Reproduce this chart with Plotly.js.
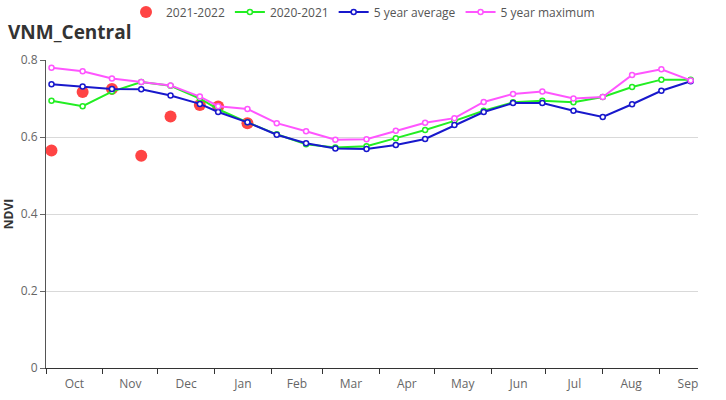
<!DOCTYPE html>
<html>
<head>
<meta charset="utf-8">
<script src="https://cdn.plot.ly/plotly-3.0.1.min.js"></script>
<style>
  html, body { margin: 0; padding: 0; background: #fff; }
  #chart { width: 726px; height: 400px; }
</style>
</head>
<body>
<div id="chart"></div>
<script>
// Composite dates (approx. 16-day steps) for one season Oct 2021 - Sep 2022
const dates = [
  '2021-10-04', '2021-10-21', '2021-11-06', '2021-11-22', '2021-12-08', '2021-12-24',
  '2022-01-03', '2022-01-19', '2022-02-04', '2022-02-20', '2022-03-08', '2022-03-25',
  '2022-04-10', '2022-04-26', '2022-05-12', '2022-05-28', '2022-06-13', '2022-06-29',
  '2022-07-16', '2022-08-01', '2022-08-17', '2022-09-02', '2022-09-18'
];

const ndvi2021_2022 = [0.565, 0.717, 0.725, 0.551, 0.653, 0.683, 0.679, 0.636];

const ndvi2020_2021 = [0.694, 0.680, 0.718, 0.743, 0.733, 0.700, 0.672, 0.638,
  0.607, 0.581, 0.573, 0.576, 0.597, 0.618, 0.642, 0.668, 0.690, 0.694, 0.690,
  0.704, 0.730, 0.749, 0.749];

const ndviAvg5 = [0.737, 0.731, 0.725, 0.724, 0.708, 0.686, 0.665, 0.638,
  0.606, 0.584, 0.570, 0.569, 0.579, 0.595, 0.631, 0.665, 0.688, 0.688, 0.668,
  0.652, 0.685, 0.720, 0.745];

const ndviMax5 = [0.780, 0.771, 0.752, 0.743, 0.734, 0.705, 0.680, 0.673,
  0.636, 0.615, 0.593, 0.594, 0.616, 0.637, 0.649, 0.691, 0.712, 0.718, 0.700,
  0.704, 0.761, 0.776, 0.747];

const seriesNames = ['2021-2022', '2020-2021', '5 year average', '5 year maximum'];
const xRange = ['2021-10-01', '2022-09-22'];
const yTicks = [0, 0.2, 0.4, 0.6, 0.8];
const yTickText = ['0', '0.2', '0.4', '0.6', '0.8'];

function lineTrace(name, y, color) {
  return {
    type: 'scatter', mode: 'lines+markers', name: name,
    x: dates.slice(0, y.length), y: y,
    line: { color: color, width: 2 },
    marker: { symbol: 'circle', size: 5, color: '#ffffff', line: { color: color, width: 1.5 } }
  };
}

const traces = [
  {
    type: 'scatter', mode: 'markers', name: seriesNames[0],
    x: dates.slice(0, ndvi2021_2022.length), y: ndvi2021_2022,
    marker: { symbol: 'circle', size: 12, color: 'rgba(255,35,35,0.85)' }
  },
  lineTrace(seriesNames[1], ndvi2020_2021, '#22ee22'),
  lineTrace(seriesNames[2], ndviAvg5, '#1818cc'),
  lineTrace(seriesNames[3], ndviMax5, '#ff55ff')
];

const layout = {
  width: 726, height: 400,
  margin: { l: 46, r: 28, t: 60, b: 32 },
  paper_bgcolor: '#ffffff', plot_bgcolor: '#ffffff',
  font: { family: '"Open Sans", "Noto Sans", sans-serif', color: '#666666', size: 12 },
  title: {
    text: '<b>VNM_Central</b>',
    font: { size: 19, color: '#333333', family: '"Open Sans", "Noto Sans", sans-serif' },
    xref: 'container', yref: 'container',
    x: 8 / 726, xanchor: 'left', y: 1 - 32 / 400, yanchor: 'middle'
  },
  showlegend: true,
  legend: {
    orientation: 'h', xref: 'container', yref: 'container',
    x: 0.5, xanchor: 'center', y: 1 - 12 / 400, yanchor: 'middle',
    font: { size: 12, color: '#555555' }, itemwidth: 30, tracegroupgap: 0
  },
  xaxis: {
    type: 'date',
    range: xRange,
    tick0: '2021-10-01', dtick: 'M1', tickformat: '%b', ticklabelmode: 'period',
    ticks: 'outside', ticklen: 5, tickcolor: '#333333',
    showline: true, linecolor: '#333333', linewidth: 1,
    showgrid: false, zeroline: false,
    tickfont: { size: 12, color: '#666666' }
  },
  yaxis: {
    range: [0, 0.8],
    tickvals: yTicks, ticktext: yTickText,
    ticks: 'outside', ticklen: 5, tickcolor: '#666666',
    showline: true, linecolor: '#555555', linewidth: 1,
    showgrid: true, gridcolor: '#d9d9d9', gridwidth: 1, zeroline: false,
    tickfont: { size: 12, color: '#666666' },
    automargin: false,
    title: { text: '<b>NDVI</b>', font: { size: 12, color: '#333333' }, standoff: 8 }
  }
};

Plotly.newPlot('chart', traces, layout, { displayModeBar: false, staticPlot: true });
</script>
</body>
</html>
